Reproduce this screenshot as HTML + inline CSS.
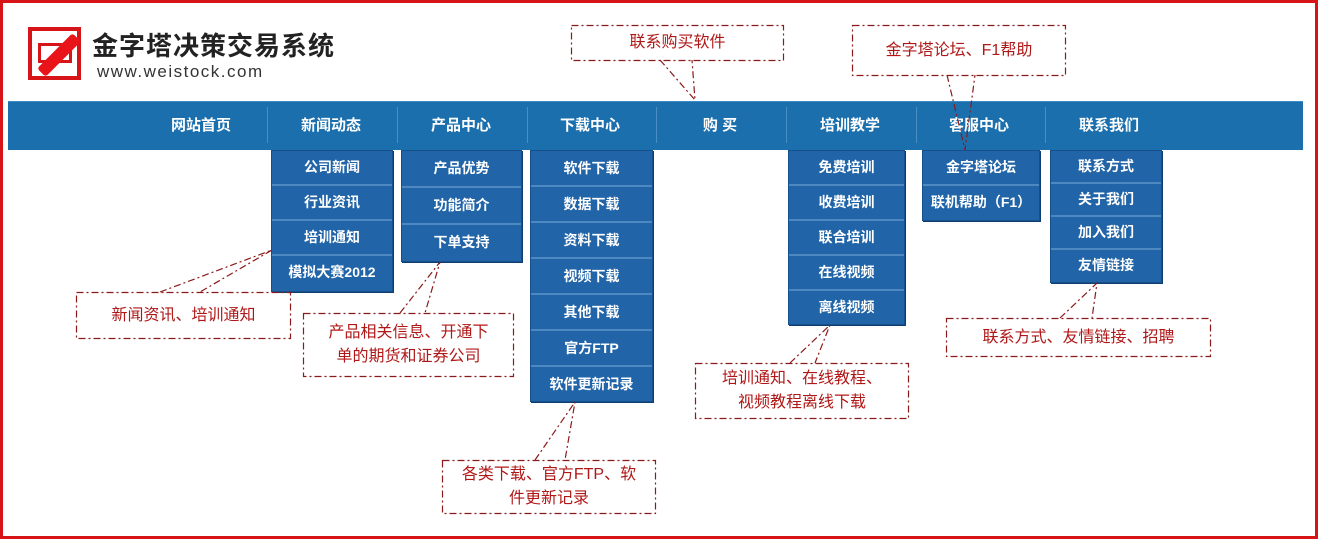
<!DOCTYPE html>
<html><head><meta charset="utf-8"><style>
*{margin:0;padding:0;box-sizing:border-box}
body{width:1318px;height:540px;background:#fff;position:relative;overflow:hidden;font-family:"Liberation Sans","Noto Sans CJK SC",sans-serif}
.frame{position:absolute;left:0;top:0;width:1318px;height:539px;border:3px solid #d71518}
.bar{position:absolute;left:8px;top:101px;width:1295px;height:49px;background:#1b6fad;border-top:1px solid #3c8cc8}
.sep{position:absolute;top:107px;width:1px;height:36px;background:#4a8fc4}
.nav{position:absolute;top:101px;height:49px;line-height:49px;color:#fff;font-weight:bold;font-size:15px;text-align:center;width:130px}
.dd{position:absolute;background:#2164a8;border:1px solid #15508c;box-shadow:1px 1px 0 #0e3f70}
.dd div{color:#fff;font-weight:bold;font-size:14px;text-align:center;border-bottom:2px solid #4d88c0}
.dd div:last-child{border-bottom:none}
.co{position:absolute;color:#b01818;font-size:16px;text-align:center;line-height:24px;display:flex;align-items:center;justify-content:center}
svg{position:absolute;left:0;top:0}
</style></head><body>
<div class="frame"></div>
<div style="position:absolute;left:28px;top:27px;width:53px;height:53px;border:4px solid #d71518;background:#fff">
<div style="position:absolute;left:6px;top:12px;width:34px;height:20px;border:3px solid #d71518"></div>
<div style="position:absolute;left:2px;top:18px;width:50px;height:12px;background:#e8141a;transform:rotate(-45deg);border-radius:3px"></div>
</div>
<div style="position:absolute;left:92px;top:26px;font-size:26px;font-weight:bold;color:#222;letter-spacing:1px">金字塔决策交易系统</div>
<div style="position:absolute;left:97px;top:62px;font-size:17px;color:#333;letter-spacing:1.5px">www.weistock.com</div>

<div class="bar"></div>
<div class="sep" style="left:267px"></div><div class="sep" style="left:397px"></div><div class="sep" style="left:527px"></div><div class="sep" style="left:656px"></div><div class="sep" style="left:786px"></div><div class="sep" style="left:916px"></div><div class="sep" style="left:1045px"></div>
<div class="nav" style="left:136px">网站首页</div>
<div class="nav" style="left:266px">新闻动态</div>
<div class="nav" style="left:396px">产品中心</div>
<div class="nav" style="left:525px">下载中心</div>
<div class="nav" style="left:655px">购 买</div>
<div class="nav" style="left:785px">培训教学</div>
<div class="nav" style="left:914px">客服中心</div>
<div class="nav" style="left:1044px">联系我们</div>

<div class="dd" style="left:271px;top:150px;width:122px"><div style="height:35px;line-height:33px">公司新闻</div><div style="height:35px;line-height:33px">行业资讯</div><div style="height:35px;line-height:33px">培训通知</div><div style="height:35px;line-height:33px">模拟大赛2012</div></div>
<div class="dd" style="left:401px;top:150px;width:121px"><div style="height:37px;line-height:35px">产品优势</div><div style="height:37px;line-height:35px">功能简介</div><div style="height:36px;line-height:35px">下单支持</div></div>
<div class="dd" style="left:530px;top:150px;width:123px"><div style="height:36px;line-height:34px">软件下载</div><div style="height:36px;line-height:34px">数据下载</div><div style="height:36px;line-height:34px">资料下载</div><div style="height:36px;line-height:34px">视频下载</div><div style="height:36px;line-height:34px">其他下载</div><div style="height:36px;line-height:34px">官方FTP</div><div style="height:34px;line-height:34px">软件更新记录</div></div>
<div class="dd" style="left:788px;top:150px;width:117px"><div style="height:35px;line-height:33px">免费培训</div><div style="height:35px;line-height:33px">收费培训</div><div style="height:35px;line-height:33px">联合培训</div><div style="height:35px;line-height:33px">在线视频</div><div style="height:33px;line-height:33px">离线视频</div></div>
<div class="dd" style="left:922px;top:150px;width:118px"><div style="height:35px;line-height:33px">金字塔论坛</div><div style="height:34px;line-height:33px">联机帮助（F1）</div></div>
<div class="dd" style="left:1050px;top:150px;width:112px"><div style="height:33px;line-height:31px">联系方式</div><div style="height:33px;line-height:31px">关于我们</div><div style="height:33px;line-height:31px">加入我们</div><div style="height:32px;line-height:31px">友情链接</div></div>

<svg width="1318" height="540" fill="none" stroke="#8b1a1a" stroke-width="1.2" stroke-dasharray="7,3,2,3">
<rect x="571.5" y="25.5" width="212" height="35"/>
<rect x="852.5" y="25.5" width="213" height="50"/>
<rect x="76.5" y="292.5" width="214" height="46"/>
<rect x="303.5" y="313.5" width="210" height="63"/>
<rect x="442.5" y="460.5" width="213" height="53"/>
<rect x="695.5" y="363.5" width="213" height="55"/>
<rect x="946.5" y="318.5" width="264" height="38"/>
<path d="M660 60 L695 100 L692 60"/>
<path d="M947 75 L965 150 L975 75"/>
<path d="M160 292 L272 250 L200 292"/>
<path d="M400 313 L440 262 L425 313"/>
<path d="M535 460 L575 402 L565 460"/>
<path d="M790 363 L830 325 L815 363"/>
<path d="M1060 318 L1097 283 L1092 318"/>
</svg>
<div class="co" style="left:572px;top:26px;width:211px;height:34px">联系购买软件</div>
<div class="co" style="left:853px;top:26px;width:212px;height:49px">金字塔论坛、F1帮助</div>
<div class="co" style="left:77px;top:293px;width:213px;height:45px">新闻资讯、培训通知</div>
<div class="co" style="left:304px;top:314px;width:209px;height:62px">产品相关信息、开通下<br>单的期货和证券公司</div>
<div class="co" style="left:443px;top:461px;width:212px;height:52px">各类下载、官方FTP、软<br>件更新记录</div>
<div class="co" style="left:696px;top:364px;width:212px;height:54px">培训通知、在线教程、<br>视频教程离线下载</div>
<div class="co" style="left:947px;top:319px;width:263px;height:37px">联系方式、友情链接、招聘</div>
</body></html>
